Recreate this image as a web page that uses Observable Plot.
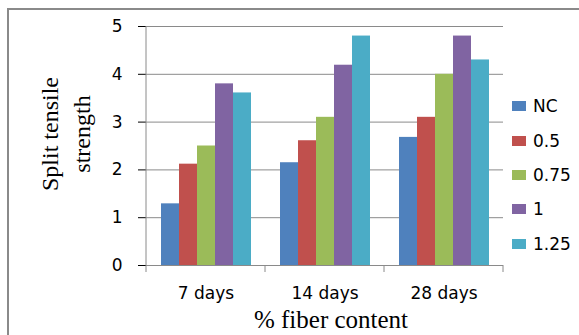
<!DOCTYPE html>
<html>
<head>
<meta charset="utf-8">
<script src="https://cdn.jsdelivr.net/npm/d3@7"></script>
<script src="https://cdn.jsdelivr.net/npm/@observablehq/plot@0.6"></script>
<style>
  html, body { margin: 0; padding: 0; background: #fff; }
  #wrap { position: relative; width: 579px; height: 335px; overflow: hidden; background: #fff; }
  #chart { position: absolute; left: 0; top: 0; }
  #box { position: absolute; left: 7px; top: 8px; width: 700px; height: 500px;
         border-left: 2px solid #8a8a8a; border-top: 2px solid #8a8a8a; z-index: 2; pointer-events: none; }
  #ytitle { position: absolute; left: -34px; top: 102px; width: 200px; height: 64px;
            transform: rotate(-90deg); transform-origin: 50% 50%;
            font: 24px "Liberation Serif", "Times New Roman", serif; line-height: 32px;
            text-align: center; color: #000; white-space: nowrap; }
  #xtitle { position: absolute; left: 181px; top: 307px; width: 300px; height: 25px;
            font: 25px "Liberation Serif", "Times New Roman", serif; line-height: 25px;
            text-align: center; color: #000; white-space: nowrap; }
  #legend { position: absolute; left: 512px; top: 89px; font: 17px "DejaVu Sans", sans-serif; color: #000; }
  #legend .item { height: 34.4px; display: flex; align-items: center; }
  #legend .sw { width: 14px; height: 10px; margin-right: 7px; }
</style>
</head>
<body>
<div id="wrap">
  <div id="chart"></div>
  <div id="ytitle">Split tensile<br>strength</div>
  <div id="xtitle">% fiber content</div>
  <div id="legend"></div>
  <div id="box"></div>
</div>
<script>
// Curing ages and fibre dosages
const ages = ["7 days", "14 days", "28 days"];
const fiber = ["NC", "0.5", "0.75", "1", "1.25"];

// Split tensile strength per dosage, one value per age
const nc   = [1.29, 2.15, 2.68];
const f050 = [2.12, 2.61, 3.10];
const f075 = [2.50, 3.10, 4.00];
const f100 = [3.80, 4.19, 4.80];
const f125 = [3.61, 4.80, 4.30];

const yTicks = [0, 1, 2, 3, 4, 5];
const colors = ["#4F81BD", "#C0504D", "#9BBB59", "#8064A2", "#4BACC6"];

const series = [nc, f050, f075, f100, f125];
const rows = ages.flatMap((age, i) =>
  fiber.map((f, j) => ({ age, fiber: f, value: series[j][i] }))
);

const gridColor = "#8a8a8a";

const chart = Plot.plot({
  width: 579,
  height: 335,
  marginLeft: 145,
  marginRight: 76,
  marginTop: 26,
  marginBottom: 70,
  style: { background: "transparent", color: "#000", fontFamily: "'DejaVu Sans', sans-serif", fontSize: "17px" },
  fx: { domain: ages, padding: 0, label: null, axis: "bottom", tickSize: 0, tickPadding: 21 },
  x: { domain: fiber, axis: null, paddingInner: 0, paddingOuter: 0.8 },
  y: { domain: [0, 5], ticks: yTicks, tickFormat: d3.format("d"), tickSize: 8, tickPadding: 16, label: null },
  color: { domain: fiber, range: colors },
  marks: [
    Plot.ruleY(yTicks, { stroke: gridColor, strokeWidth: 1 }),
    Plot.barY(rows, { fx: "age", x: "fiber", y: "value", fill: "fiber" }),
    Plot.ruleY([0], { stroke: gridColor, strokeWidth: 1 })
  ]
});
document.getElementById("chart").appendChild(chart);

// Axis tick strokes in grey, labels stay black
const svg = d3.select(chart);
svg.selectAll('[aria-label="y-axis tick"]').attr("stroke", gridColor).attr("stroke-opacity", 1);

// Vertical axis line and the category boundary ticks under the baseline
const fxS = chart.scale("fx");
const yS = chart.scale("y");
const edges = ages.map(a => fxS.apply(a)).concat(fxS.apply(ages[ages.length - 1]) + fxS.bandwidth);
const y0 = yS.apply(0);
const yTop = yS.apply(yS.domain[1]);
svg.append("g")
  .attr("stroke", gridColor)
  .selectAll("line")
  .data(edges)
  .join("line")
  .attr("x1", d => d).attr("x2", d => d)
  .attr("y1", (d, i) => (i === 0 ? yTop : y0))
  .attr("y2", y0 + 7);

// Legend
const legend = d3.select("#legend");
const item = legend.selectAll(".item").data(fiber).join("div").attr("class", "item");
item.append("div").attr("class", "sw").style("background", (d, i) => colors[i]);
item.append("span").text(d => d);
</script>
</body>
</html>
